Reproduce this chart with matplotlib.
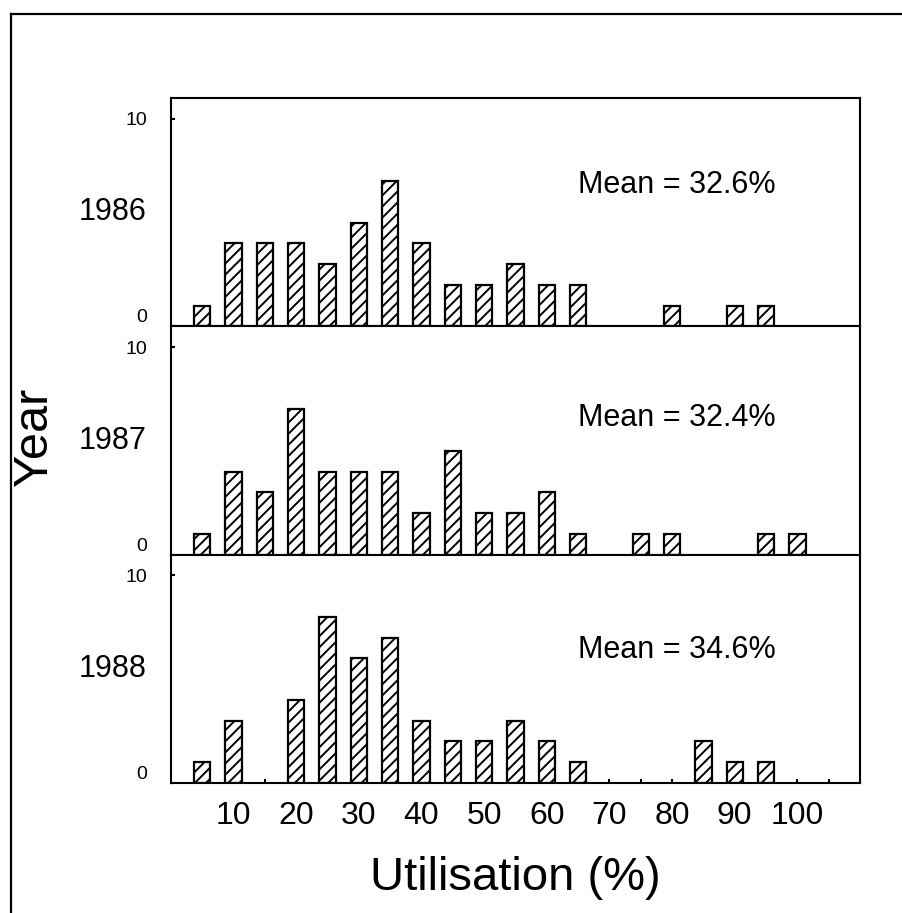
import matplotlib
matplotlib.use("Agg")
import matplotlib.pyplot as plt
from matplotlib.lines import Line2D

plt.rcParams["font.family"] = ["Liberation Sans", "DejaVu Sans"]
plt.rcParams["hatch.linewidth"] = 1.4

# utilisation classes (%) and number of sites in each class
bins = [5, 10, 15, 20, 25, 30, 35, 40, 45, 50, 55, 60, 65, 70, 75, 80, 85, 90, 95, 100]
years = ["1986", "1987", "1988"]
counts_1986 = [1, 4, 4, 4, 3, 5, 7, 4, 2, 2, 3, 2, 2, 0, 0, 1, 0, 1, 1, 0]
counts_1987 = [1, 4, 3, 7, 4, 4, 4, 2, 5, 2, 2, 3, 1, 0, 1, 1, 0, 0, 1, 1]
counts_1988 = [1, 3, 0, 4, 8, 6, 7, 3, 2, 2, 3, 2, 1, 0, 0, 0, 2, 1, 1, 0]
means = [32.6, 32.4, 34.6]

mean_y = [6.8, 6.6, 6.4]

fig = plt.figure(figsize=(9.03, 9.13), dpi=100)

left, right = 171 / 903, 860 / 903
top, bottom = 1 - 98 / 913, 1 - 783 / 913
h = (top - bottom) / 3

for i, (year, counts, mean) in enumerate(zip(years, [counts_1986, counts_1987, counts_1988], means)):
    ax = fig.add_axes([left, top - (i + 1) * h, right - left, h])
    xs = [b for b, c in zip(bins, counts) if c > 0]
    ys = [c for c in counts if c > 0]
    ax.bar(xs, ys, width=2.6, color="white", edgecolor="black",
           linewidth=1.6, hatch="///", zorder=2)
    ax.set_xlim(0, 110)
    ax.set_ylim(0, 11)
    for s in ax.spines.values():
        s.set_linewidth(1.5)
    ax.set_yticks([0, 10])
    ax.set_yticklabels(["0", "10"])
    ax.tick_params(axis="y", direction="in", length=3, width=1.5,
                   labelsize=14, pad=17)
    ax.get_yticklabels()[0].set_va("bottom")
    if i < 2:
        ax.set_xticks([])
    else:
        ticks = list(range(5, 110, 5))
        ax.set_xticks(ticks)
        ax.set_xticklabels([str(t) if t % 10 == 0 and t <= 100 else "" for t in ticks])
        ax.tick_params(axis="x", direction="in", length=3, width=1.5,
                       labelsize=23, pad=13)
        ax.set_xlabel("Utilisation (%)", fontsize=34, labelpad=18)
    ax.text(-0.035, 0.5, year, transform=ax.transAxes, ha="right",
            va="center", fontsize=22)
    ax.text(65, mean_y[i], "Mean = %.1f%%" % mean, fontsize=22,
            ha="left", va="center")

fig.text(35 / 903, 1 - 437 / 913, "Year", rotation=90, fontsize=35,
         ha="center", va="center")

# outer frame lines
fig.add_artist(Line2D([11 / 903, 11 / 903], [0, 1 - 14 / 913],
                      transform=fig.transFigure, color="black", linewidth=1.6))
fig.add_artist(Line2D([11 / 903, 1], [1 - 14 / 913, 1 - 14 / 913],
                      transform=fig.transFigure, color="black", linewidth=1.6))

fig.savefig("out.png", dpi=100)
